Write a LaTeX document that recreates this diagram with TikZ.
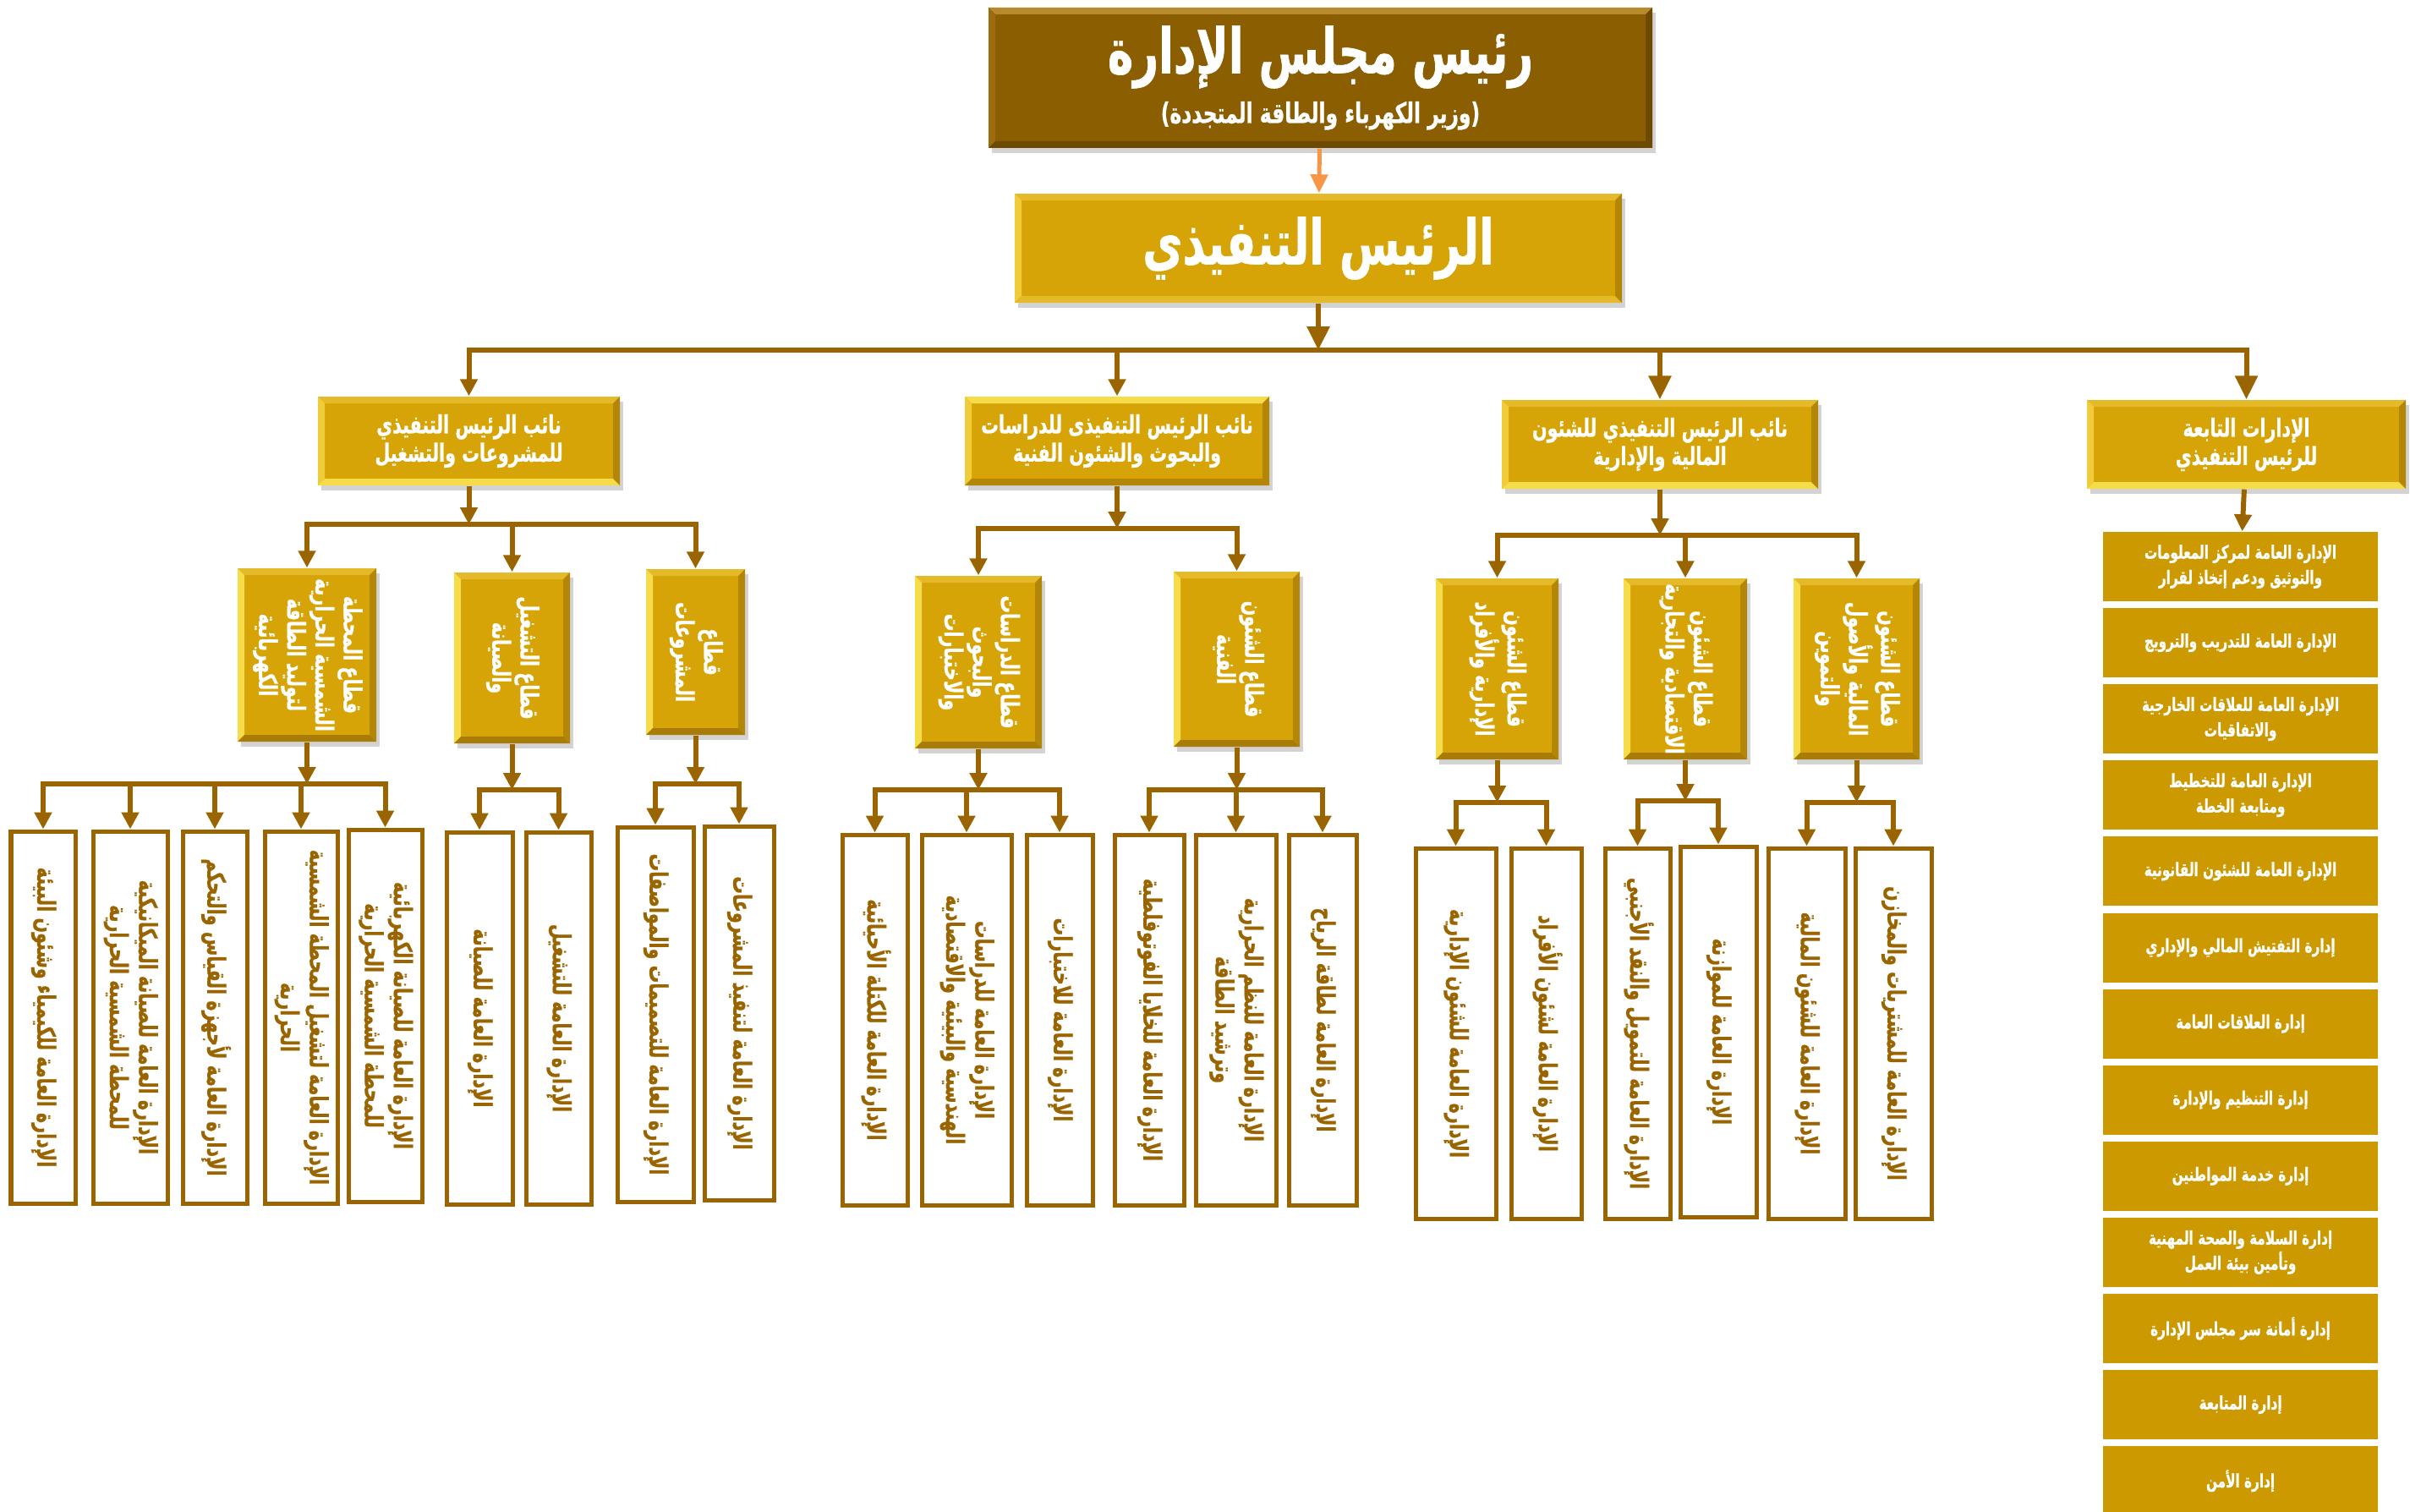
\documentclass[tikz,border=0pt]{standalone}
\usepackage{fontspec}
\usepackage{graphicx}
\usetikzlibrary{arrows.meta,shadows}
\newfontfamily\arabicfont[Script=Arabic,FakeStretch=0.7,BoldFeatures={FakeBold=0.8}]{DejaVu Sans}
\TeXXeTstate=1
\newcommand\arl[1]{\beginR#1\endR}
\newcommand\vtext[1]{\rotatebox{-90}{\begin{tabular}{@{}c@{}}#1\end{tabular}}}
\definecolor{chairc}{HTML}{8B5E02}
\definecolor{chairtop}{HTML}{B88A2C}
\definecolor{chairleft}{HTML}{9C6C0E}
\definecolor{chairdark}{HTML}{6E4A00}
\definecolor{goldc}{HTML}{D6A406}
\definecolor{bevtop}{HTML}{E4BA2A}
\definecolor{bevleft}{HTML}{F0CC3A}
\definecolor{bevbot}{HTML}{F6DC4A}
\definecolor{bevright}{HTML}{B48608}
\definecolor{bevdark}{HTML}{A87C06}
\definecolor{linkc}{HTML}{9A6500}
\definecolor{sidec}{HTML}{CC9900}
\definecolor{tipc}{HTML}{F79646}
\def\bw{0.08cm}
\tikzset{
  bevel/.style n args={4}{path picture={
    \path (path picture bounding box.north west) coordinate (nw)
          (path picture bounding box.south east) coordinate (se)
          (nw -| se) coordinate (ne) (nw |- se) coordinate (sw);
    \fill[#1] (nw) -- (ne) -- ([shift={(-\bw,-\bw)}]ne) -- ([shift={(\bw,-\bw)}]nw) -- cycle;
    \fill[#2] (nw) -- (sw) -- ([shift={(\bw,\bw)}]sw) -- ([shift={(\bw,-\bw)}]nw) -- cycle;
    \fill[#3] (sw) -- (se) -- ([shift={(-\bw,\bw)}]se) -- ([shift={(\bw,\bw)}]sw) -- cycle;
    \fill[#4] (ne) -- (se) -- ([shift={(-\bw,\bw)}]se) -- ([shift={(-\bw,-\bw)}]ne) -- cycle;
  }},
  sz/.style 2 args={minimum width=#1cm, minimum height=#2cm},
  link/.style={draw=linkc, line width=0.06cm},
  bus/.style={link, line cap=rect},
  arr/.style={link, -{Triangle[width=0.2cm,length=0.2cm]}},
  bigarr/.style={link, -{Triangle[width=0.26cm,length=0.28cm]}},
  gold/.style={fill=goldc, text=white, inner sep=0pt, align=center,
    drop shadow={shadow xshift=0.04cm, shadow yshift=-0.06cm, opacity=0.35},
    font=\arabicfont\bfseries\fontsize{8.4}{9.5}\selectfont},
  vp/.style={gold, bevel={bevtop}{bevleft}{bevbot}{bevright}},
  sect/.style={gold, bevel={bevtop}{bevbot}{bevdark}{bevright}},
  dept/.style={draw=linkc, line width=0.05cm, fill=white, text=linkc, inner sep=0pt,
    font=\arabicfont\bfseries\fontsize{8.4}{9.8}\selectfont},
  side/.style={fill=sidec, text=white, inner sep=0pt, align=center, sz={3.25}{0.82},
    font=\arabicfont\bfseries\fontsize{6.2}{8.5}\selectfont}
}
\begin{document}
\begin{tikzpicture}
  \useasboundingbox (0,0) rectangle (28.5,-17.87);
  % top of the chart
  \node[gold, fill=chairc, sz={7.85}{1.66}, bevel={chairtop}{chairleft}{chairdark}{chairdark}] (chair) at (15.615,-0.92)
    {{\fontsize{21}{24}\selectfont\arl{رئيس مجلس الإدارة}}\\[0.12cm]{\fontsize{9.5}{11}\selectfont\arl{(وزير الكهرباء والطاقة المتجددة)}}};
  \node[gold, sz={7.18}{1.29}, bevel={bevtop}{bevleft}{bevtop}{bevright}] (ceo) at (15.59,-2.935)
    {\fontsize{21}{24}\selectfont\arl{الرئيس التنفيذي}};
  \draw[link, draw=tipc, line width=0.05cm, -{Triangle[width=0.2cm,length=0.22cm]}] (chair) -- (ceo);

  % vice presidents
  \node[vp, sz={3.57}{1.05}] (vpproj) at (5.545,-5.215) {\arl{نائب الرئيس التنفيذي}\\\arl{للمشروعات والتشغيل}};
  \node[gold, sz={3.60}{1.05}, bevel={bevbot}{bevleft}{bevright}{bevright}] (vpstudy) at (13.21,-5.215) {\arl{نائب الرئيس التنفيذى للدراسات}\\\arl{والبحوث والشئون الفنية}};
  \node[vp, sz={3.74}{1.05}] (vpfin) at (19.63,-5.255) {\arl{نائب الرئيس التنفيذي للشئون}\\\arl{المالية والإدارية}};
  \node[vp, sz={3.77}{1.05}] (ceodepts) at (26.565,-5.255) {\arl{الإدارات التابعة}\\\arl{للرئيس التنفيذي}};

  \coordinate (bus0) at (0,-4.14);
  \draw[bigarr] (ceo) -- (ceo |- bus0);
  \draw[bus] (vpproj |- bus0) -- (ceodepts |- bus0);
  \foreach \n in {vpproj,vpstudy} \draw[arr] (\n |- bus0) -- (\n);
  \foreach \n in {vpfin,ceodepts} \draw[bigarr] (\n |- bus0) -- (\n);

  % sectors
  \node[sect, sz={1.64}{2.05}] (secsolar) at (3.63,-7.745) {\vtext{\arl{قطاع المحطة}\\\arl{الشمسية الحرارية}\\\arl{لتوليد الطاقة}\\\arl{الكهربائية}}};
  \node[sect, sz={1.37}{2.02}] (secops) at (6.055,-7.78) {\vtext{\arl{قطاع التشغيل}\\\arl{والصيانة}}};
  \node[sect, sz={1.17}{1.96}] (secproj) at (8.225,-7.71) {\vtext{\arl{قطاع}\\\arl{المشروعات}}};
  \node[sect, sz={1.50}{2.04}] (secstudy) at (11.57,-7.83) {\vtext{\arl{قطاع الدراسات}\\\arl{والبحوث}\\\arl{والاختبارات}}};
  \node[sect, sz={1.49}{2.07}] (sectech) at (14.625,-7.795) {\vtext{\arl{قطاع الشئون}\\\arl{الفنية}}};
  \node[sect, sz={1.45}{2.14}] (secadmin) at (17.705,-7.91) {\vtext{\arl{قطاع الشئون}\\\arl{الإدارية والأفراد}}};
  \node[sect, sz={1.46}{2.14}] (sececon) at (19.93,-7.91) {\vtext{\arl{قطاع الشئون}\\\arl{الاقتصادية والتجارية}}};
  \node[sect, sz={1.49}{2.14}] (secfin) at (21.955,-7.91) {\vtext{\arl{قطاع الشئون}\\\arl{المالية والأصول}\\\arl{والتموين}}};

  \coordinate (busP) at (0,-6.20);
  \draw[arr] (vpproj) -- (vpproj |- busP);
  \draw[bus] (secsolar |- busP) -- (secproj |- busP);
  \foreach \n in {secsolar,secops,secproj} \draw[arr] (\n |- busP) -- (\n);
  \coordinate (busS) at (0,-6.25);
  \draw[arr] (vpstudy) -- (vpstudy |- busS);
  \draw[bus] (secstudy |- busS) -- (sectech |- busS);
  \foreach \n in {secstudy,sectech} \draw[arr] (\n |- busS) -- (\n);
  \coordinate (busF) at (0,-6.33);
  \draw[arr] (vpfin) -- (vpfin |- busF);
  \draw[bus] (secadmin |- busF) -- (secfin |- busF);
  \foreach \n in {secadmin,sececon,secfin} \draw[arr] (\n |- busF) -- (\n);

  % general departments
  \node[dept, sz={0.76}{4.40}] (pj1) at (0.51,-12.03) {\vtext{\arl{الإدارة العامة للكيمياء وشئون البيئة}}};
  \node[dept, sz={0.88}{4.40}] (pj2) at (1.54,-12.03) {\vtext{\arl{الإدارة العامة للصيانة الميكانيكية}\\\arl{للمحطة الشمسية الحرارية}}};
  \node[dept, sz={0.76}{4.40}] (pj3) at (2.54,-12.03) {\vtext{\arl{الإدارة العامة لأجهزة القياس والتحكم}}};
  \node[dept, sz={0.86}{4.40}] (pj4) at (3.56,-12.03) {\vtext{\arl{الإدارة العامة لتشغيل المحطة الشمسية}\\\arl{الحرارية}}};
  \node[dept, sz={0.87}{4.40}] (pj5) at (4.555,-12.01) {\vtext{\arl{الإدارة العامة للصيانة الكهربائية}\\\arl{للمحطة الشمسية الحرارية}}};
  \node[dept, sz={0.78}{4.40}] (pj6) at (5.67,-12.04) {\vtext{\arl{الإدارة العامة للصيانة}}};
  \node[dept, sz={0.77}{4.40}] (pj7) at (6.605,-12.04) {\vtext{\arl{الإدارة العامة للتشغيل}}};
  \node[dept, sz={0.90}{4.43}] (pj8) at (7.75,-11.995) {\vtext{\arl{الإدارة العامة للتصميمات والمواصفات}}};
  \node[dept, sz={0.82}{4.42}] (pj9) at (8.74,-11.98) {\vtext{\arl{الإدارة العامة لتنفيذ المشروعات}}};

  \node[dept, sz={0.77}{4.38}] (st1) at (10.345,-12.06) {\vtext{\arl{الإدارة العامة للكتلة الأحيائية}}};
  \node[dept, sz={1.06}{4.38}] (st2) at (11.43,-12.06) {\vtext{\arl{الإدارة العامة للدراسات}\\\arl{الهندسية والبيئية والاقتصادية}}};
  \node[dept, sz={0.78}{4.38}] (st3) at (12.53,-12.06) {\vtext{\arl{الإدارة العامة للاختبارات}}};
  \node[dept, sz={0.82}{4.38}] (st4) at (13.59,-12.06) {\vtext{\arl{الإدارة العامة للخلايا الفوتوفلطية}}};
  \node[dept, sz={0.95}{4.38}] (st5) at (14.615,-12.06) {\vtext{\arl{الإدارة العامة للنظم الحرارية}\\\arl{وترشيد الطاقة}}};
  \node[dept, sz={0.80}{4.38}] (st6) at (15.64,-12.06) {\vtext{\arl{الإدارة العامة لطاقة الرياح}}};

  \node[dept, sz={0.95}{4.38}] (fn1) at (17.215,-12.22) {\vtext{\arl{الإدارة العامة للشئون الإدارية}}};
  \node[dept, sz={0.83}{4.38}] (fn2) at (18.285,-12.22) {\vtext{\arl{الإدارة العامة لشئون الأفراد}}};
  \node[dept, sz={0.77}{4.38}] (fn3) at (19.365,-12.22) {\vtext{\arl{الإدارة العامة للتمويل والنقد الأجنبي}}};
  \node[dept, sz={0.90}{4.38}] (fn4) at (20.32,-12.20) {\vtext{\arl{الإدارة العامة للموازنة}}};
  \node[dept, sz={0.91}{4.38}] (fn5) at (21.365,-12.22) {\vtext{\arl{الإدارة العامة للشئون المالية}}};
  \node[dept, sz={0.90}{4.38}] (fn6) at (22.39,-12.22) {\vtext{\arl{الإدارة العامة للمشتريات والمخازن}}};

  \foreach \s/\y/\a/\b/\l in {secsolar/9.27/pj1/pj5/{pj1,pj2,pj3,pj4,pj5}, secops/9.34/pj6/pj7/{pj6,pj7},
      secproj/9.27/pj8/pj9/{pj8,pj9}, secstudy/9.34/st1/st3/{st1,st2,st3}, sectech/9.34/st4/st6/{st4,st5,st6},
      secadmin/9.49/fn1/fn2/{fn1,fn2}, sececon/9.47/fn3/fn4/{fn3,fn4}, secfin/9.49/fn5/fn6/{fn5,fn6}} {
    \coordinate (b) at (0,-\y);
    \draw[arr] (\s) -- (\s |- b);
    \draw[bus] (\a |- b) -- (\b |- b);
    \foreach \n in \l \draw[arr] (\n |- b) -- (\n);
  }

  % departments under the executive president
  \foreach \t [count=\i] in {
    {\arl{الإدارة العامة لمركز المعلومات}\\\arl{والتوثيق ودعم إتخاذ لقرار}},
    {\arl{الإدارة العامة للتدريب والترويج}},
    {\arl{الإدارة العامة للعلاقات الخارجية}\\\arl{والاتفاقيات}},
    {\arl{الإدارة العامة للتخطيط}\\\arl{ومتابعة الخطة}},
    {\arl{الإدارة العامة للشئون القانونية}},
    {\arl{إدارة التفتيش المالي  والإداري}},
    {\arl{إدارة العلاقات العامة}},
    {\arl{إدارة التنظيم والإدارة}},
    {\arl{إدارة خدمة المواطنين}},
    {\arl{إدارة السلامة والصحة المهنية}\\\arl{وتأمين بيئة العمل}},
    {\arl{إدارة أمانة سر مجلس الإدارة}},
    {\arl{إدارة المتابعة}},
    {\arl{إدارة الأمن}}}
    \node[side] (r\i) at (26.495,{-6.70-0.901*(\i-1)}) {\t};
  \draw[arr] (ceodepts) -- (r1);
\end{tikzpicture}
\end{document}
